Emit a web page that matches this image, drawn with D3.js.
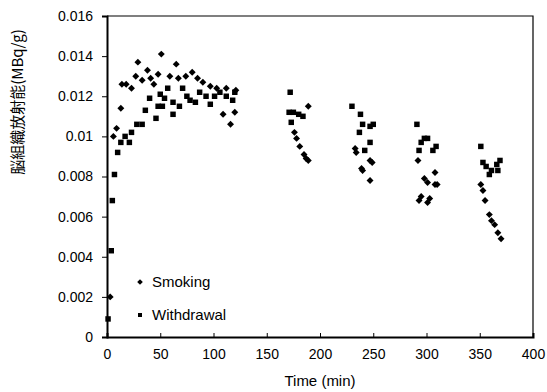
<!DOCTYPE html>
<html>
<head>
<meta charset="utf-8">
<script src="https://cdn.jsdelivr.net/npm/d3@7"></script>
<style>
  body { margin: 0; background: #fff; }
  text { font-family: "Liberation Sans", Arial, sans-serif; fill: #000; }
</style>
</head>
<body>
<div id="chart"></div>
<script>
// tick labels
var xTicks = [0, 50, 100, 150, 200, 250, 300, 350, 400];
var yTicks = [0, 0.002, 0.004, 0.006, 0.008, 0.01, 0.012, 0.014, 0.016];

// Smoking (diamonds)
var smokingTime = [3, 6, 9, 13, 14, 18, 23, 27, 29, 33, 38, 41, 44, 48, 51, 59, 65, 67, 74, 80, 85, 90, 97, 103, 109, 112, 116, 120, 121,
    176, 178, 181, 185, 187, 189, 189,
    233, 234, 239, 240, 247, 249, 247,
    292, 308, 298, 301, 308, 310, 295, 293, 303, 301,
    351, 353, 355, 359, 361, 364, 367, 370];
var smokingValue = [0.0020, 0.0100, 0.0104, 0.0114, 0.0126, 0.0126, 0.0124, 0.0130, 0.0137, 0.0128, 0.0133, 0.0129, 0.0126, 0.0131, 0.0141, 0.0130, 0.0136, 0.0129, 0.0130, 0.0132, 0.0129, 0.0127, 0.0125, 0.0124, 0.0111, 0.0124, 0.0106, 0.0112, 0.0123,
    0.0102, 0.0099, 0.0095, 0.0091, 0.0089, 0.0088, 0.0115,
    0.0094, 0.0092, 0.0084, 0.0083, 0.0088, 0.0087, 0.0078,
    0.0088, 0.0082, 0.0079, 0.0077, 0.0076, 0.0076, 0.0070, 0.0068, 0.0069, 0.0067,
    0.0076, 0.0073, 0.0068, 0.0061, 0.0058, 0.0056, 0.0052, 0.0049];

// Withdrawal (squares)
var withdrawalTime = [1, 4, 5, 7, 10, 13, 17, 21, 23, 28, 33, 36, 40, 46, 48, 50, 52, 54, 57, 62, 62, 68, 71, 75, 78, 83, 87, 93, 97, 101, 106, 112, 118, 120,
    172, 171, 175, 180, 173, 184,
    230, 238, 240, 237, 247, 250, 247, 242,
    291, 298, 301, 295, 293, 306, 309,
    351, 353, 356, 361, 366, 369, 359, 367];
var withdrawalValue = [0.0009, 0.0043, 0.0068, 0.0081, 0.0092, 0.0097, 0.0100, 0.0097, 0.0102, 0.0106, 0.0106, 0.0113, 0.0119, 0.0109, 0.0115, 0.0121, 0.0115, 0.0119, 0.0124, 0.0111, 0.0117, 0.0115, 0.0124, 0.0120, 0.0118, 0.0117, 0.0122, 0.0120, 0.0116, 0.0120, 0.0122, 0.0120, 0.0118, 0.0122,
    0.0122, 0.0112, 0.0112, 0.0111, 0.0107, 0.0110,
    0.0115, 0.0111, 0.0106, 0.0102, 0.0105, 0.0106, 0.0097, 0.0093,
    0.0106, 0.0099, 0.0099, 0.0097, 0.0093, 0.0093, 0.0095,
    0.0095, 0.0087, 0.0085, 0.0083, 0.0086, 0.0088, 0.0081, 0.0083];

var margin = { top: 16, right: 14, bottom: 55, left: 107 },
    width = 547 - margin.left - margin.right,
    height = 392 - margin.top - margin.bottom;

var svg = d3.select("#chart")
    .append("svg")
    .attr("width", 547)
    .attr("height", 392)
    .append("g")
    .attr("transform", "translate(" + margin.left + "," + margin.top + ")");

var x = d3.scaleLinear().domain([0, 400]).range([0, width]);
var y = d3.scaleLinear().domain([0, 0.016]).range([height, 0]);

// frame (top and right)
svg.append("path")
    .attr("d", "M0,0H" + width + "V" + height)
    .attr("fill", "none")
    .attr("stroke", "#000")
    .attr("stroke-width", 1.2);

// X axis
var xAxis = svg.append("g")
    .attr("transform", "translate(0," + height + ")")
    .call(d3.axisBottom(x).tickValues(xTicks).tickSize(-4).tickPadding(12).tickFormat(d3.format("d")));
xAxis.select(".domain").attr("stroke-width", 2);
xAxis.selectAll("text").style("font-size", "14px");

// Y axis
var yAxis = svg.append("g")
    .call(d3.axisLeft(y).tickValues(yTicks).tickSize(5).tickPadding(9).tickFormat(function (d) { return d === 0 ? "0" : String(+d.toFixed(3)); }));
yAxis.select(".domain").attr("stroke-width", 2);
yAxis.selectAll("text").style("font-size", "14px");

// axis titles
svg.append("text")
    .attr("x", width / 2)
    .attr("y", height + 49)
    .attr("text-anchor", "middle")
    .style("font-size", "15px")
    .text("Time (min)");

svg.append("text")
    .attr("transform", "translate(" + (-84) + "," + 86 + ")rotate(-90)")
    .attr("text-anchor", "middle")
    .style("font-family", "'Noto Sans CJK JP', 'Liberation Sans', sans-serif")
    .style("font-size", "15px")
    .text("脳組織放射能(MBq/g)");

// points
var smoking = smokingTime.map(function (t, i) { return { t: t, v: smokingValue[i] }; });
var withdrawal = withdrawalTime.map(function (t, i) { return { t: t, v: withdrawalValue[i] }; });

// diamond = square turned 45 degrees
var diamond = d3.symbol().type(d3.symbolSquare).size(24);
var square = d3.symbol().type(d3.symbolSquare).size(30);

svg.selectAll(".smk")
    .data(smoking)
    .enter()
    .append("path")
    .attr("class", "smk")
    .attr("d", diamond)
    .attr("transform", function (d) { return "translate(" + x(d.t) + "," + y(d.v) + ")rotate(45)"; })
    .attr("fill", "#000");

svg.selectAll(".wd")
    .data(withdrawal)
    .enter()
    .append("path")
    .attr("class", "wd")
    .attr("d", square)
    .attr("transform", function (d) { return "translate(" + x(d.t) + "," + y(d.v) + ")"; })
    .attr("fill", "#000");

// legend
var legend = [
    { name: "Smoking", sym: d3.symbol().type(d3.symbolSquare).size(16), rot: 45, y: 266 },
    { name: "Withdrawal", sym: d3.symbol().type(d3.symbolSquare).size(16), rot: 0, y: 299 }
];
legend.forEach(function (l) {
    svg.append("path")
        .attr("d", l.sym())
        .attr("transform", "translate(33," + l.y + ")rotate(" + l.rot + ")")
        .attr("fill", "#000");
    svg.append("text")
        .attr("x", 45)
        .attr("y", l.y)
        .attr("dy", "0.35em")
        .style("font-size", "15px")
        .text(l.name);
});
</script>
</body>
</html>
